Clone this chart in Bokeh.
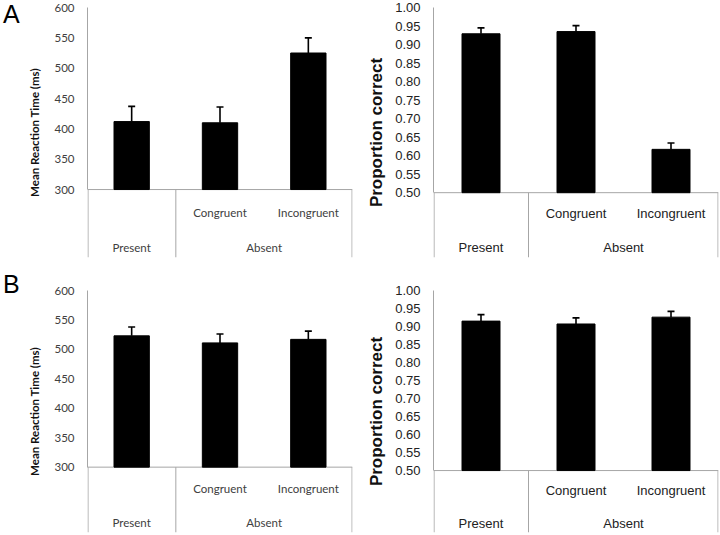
from bokeh.plotting import figure
from bokeh.models import (FactorRange, Range1d, LinearAxis, FixedTicker, NumeralTickFormatter,
                          ColumnDataSource, Whisker, TeeHead, Div)
from bokeh.layouts import column, row
from bokeh.embed import file_html
from bokeh.resources import INLINE
from bokeh.core.properties import value

# ---------------- data ----------------
conditions = ["Present", "Congruent", "Incongruent"]
sub_labels = ["", "Congruent", "Incongruent"]
group_labels = ["Present", "Absent"]
panel_letters = ["A", "B"]

rt_ticks = [300, 350, 400, 450, 500, 550, 600]
acc_ticks = [0.50, 0.55, 0.60, 0.65, 0.70, 0.75, 0.80, 0.85, 0.90, 0.95, 1.00]

a_rt = [412, 410, 525]
a_rt_err = [25, 26, 25]
a_acc = [0.929, 0.935, 0.617]
a_acc_err = [0.016, 0.016, 0.017]

b_rt = [523, 511, 517]
b_rt_err = [15, 15, 14]
b_acc = [0.915, 0.907, 0.926]
b_acc_err = [0.018, 0.017, 0.016]

AXIS_GRAY = "#a6a6a6"
LFW = 22  # width of the letter column


def letter_div(letter, height):
    html = ('<div style="font-family:\'Liberation Sans\',Arial,sans-serif;font-size:25px;'
            'line-height:25px;padding:2px 0 0 3px;margin:0;color:black;">%s</div>' % letter)
    return Div(text=html, width=LFW, height=height, margin=0)


def panel(vals, errs, ticks, base, lo, sub_y, grp_y, width, height, bl, br, bt, bb,
          font, text_color, tick_size, label_text, label_size, label_standoff, fmt=None):
    top = ticks[-1]
    p = figure(width=width, height=height, x_range=FactorRange(factors=conditions),
               y_range=Range1d(lo, top), output_backend="svg", toolbar_location=None,
               x_axis_location=None, y_axis_location=None,
               min_border_left=bl, min_border_right=br, min_border_top=bt, min_border_bottom=bb)
    p.outline_line_color = None
    p.xgrid.visible = False
    p.ygrid.visible = False
    p.background_fill_color = "white"
    p.border_fill_color = "white"

    ax = LinearAxis(bounds=(base, top), ticker=FixedTicker(ticks=ticks),
                    major_tick_line_color=None, minor_tick_line_color=None,
                    major_tick_out=0, major_tick_in=0, minor_tick_out=0, minor_tick_in=0,
                    axis_line_color=AXIS_GRAY, axis_line_width=1,
                    major_label_standoff=13,
                    major_label_text_font=font, major_label_text_font_size=tick_size,
                    major_label_text_color=text_color,
                    axis_label=label_text, axis_label_text_font=font,
                    axis_label_text_font_size=label_size, axis_label_text_font_style="bold",
                    axis_label_text_color="#111111", axis_label_standoff=label_standoff)
    if fmt:
        ax.formatter = NumeralTickFormatter(format=fmt)
    p.add_layout(ax, "left")

    # table lines (below the value axis)
    lines = ColumnDataSource(dict(
        x0=[(conditions[0], -0.5), (conditions[0], -0.494), (conditions[0], 0.5), (conditions[2], 0.495)],
        x1=[(conditions[2], 0.5), (conditions[0], -0.494), (conditions[0], 0.5), (conditions[2], 0.495)],
        y0=[base, base, base, base],
        y1=[base, lo, lo, lo],
    ))
    p.segment(x0="x0", y0="y0", x1="x1", y1="y1", source=lines, line_color=AXIS_GRAY, line_width=1)

    src = ColumnDataSource(dict(x=conditions, top=vals,
                                upper=[v + e for v, e in zip(vals, errs)]))
    p.vbar(x="x", top="top", bottom=base, width=0.4, source=src,
           fill_color="black", line_color="black")
    w = Whisker(base="x", lower="top", upper="upper", source=src, dimension="height",
                line_color="black", line_width=1.6,
                upper_head=TeeHead(size=7, line_color="black", line_width=1.6), lower_head=None)
    p.add_layout(w)

    # category labels
    p.text(x=conditions[1:], y=[sub_y] * 2, text=sub_labels[1:],
           text_font=value(font), text_font_size=tick_size, text_color=text_color,
           text_align="center", text_baseline="middle")
    p.text(x=[conditions[0], (conditions[1], 0.5)], y=[grp_y] * 2, text=group_labels,
           text_font=value(font), text_font_size=tick_size, text_color=text_color,
           text_align="center", text_baseline="middle")
    return p


pA1 = panel(a_rt, a_rt_err, rt_ticks, 300, 188, 262, 204, 364 - LFW, 270, 87 - LFW, 12, 7, 13,
            "Lato", "#404040", "11.5px", "Mean Reaction Time (ms)", "11.5px", 10)
pA2 = panel(a_acc, a_acc_err, acc_ticks, 0.5, 0.325, 0.445, 0.353, 355, 270, 67, 1, 7, 12,
            "Liberation Sans", "#222222", "13px", "Proportion correct", "17px", 6, fmt="0.00")
pB1 = panel(b_rt, b_rt_err, rt_ticks, 300, 189, 263, 206, 364 - LFW, 264, 87 - LFW, 12, 13, 1,
            "Lato", "#404040", "11.5px", "Mean Reaction Time (ms)", "11.5px", 10)
pB2 = panel(b_acc, b_acc_err, acc_ticks, 0.5, 0.328, 0.444, 0.352, 355, 264, 67, 1, 20, 2,
            "Liberation Sans", "#222222", "13px", "Proportion correct", "17px", 6, fmt="0.00")

layout = column(row(letter_div(panel_letters[0], 270), pA1, pA2),
                row(letter_div(panel_letters[1], 264), pB1, pB2))
open("out.html", "w").write(file_html(layout, INLINE))
